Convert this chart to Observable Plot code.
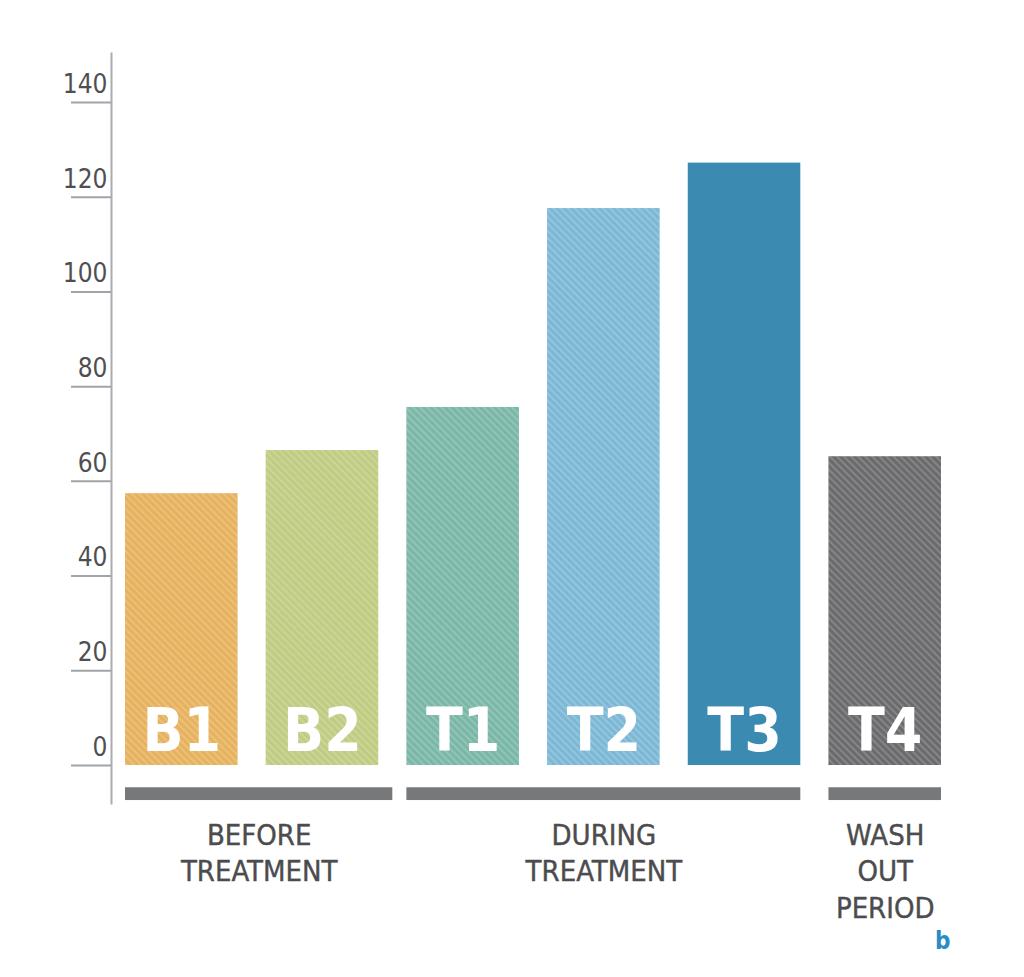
<!DOCTYPE html>
<html>
<head>
<meta charset="utf-8">
<script src="https://cdn.jsdelivr.net/npm/d3@7"></script>
<script src="https://cdn.jsdelivr.net/npm/@observablehq/plot@0.6"></script>
<style>
  html, body { margin: 0; padding: 0; background: #fff; }
  #chart { width: 1024px; height: 977px; }
</style>
</head>
<body>
<div id="chart"></div>
<script>
// ---- data ----
const categories = ["B1", "B2", "T1", "T2", "T3", "T4"];
const values = [57.4, 66.5, 75.6, 117.6, 127.2, 65.2];
const colors = ["#e7b25e", "#bfcc82", "#7ab7a7", "#7cb8d5", "#3a8ab1", "#6b6b6d"];
const groupLabels = ["BEFORE\nTREATMENT", "DURING\nTREATMENT", "WASH\nOUT\nPERIOD"];
const groupFirst = [0, 2, 5];
const groupLast = [1, 4, 5];
const yTicks = [0, 20, 40, 60, 80, 100, 120, 140];

// ---- tables ----
const barW = 0.8;
const bars = categories.map((c, i) => ({cat: c, value: values[i], color: colors[i], i}));
const groups = groupLabels.map((g, k) => ({
  label: g,
  x1: groupFirst[k],
  x2: groupLast[k] + barW + (k === 0 ? 0.1 : 0)
}));

const font = "'DejaVu Sans Condensed', 'Liberation Sans Narrow', 'DejaVu Sans', sans-serif";

const chart = Plot.plot({
  width: 1024,
  height: 977,
  marginLeft: 111,
  marginRight: 83,
  marginTop: 102,
  marginBottom: 212,
  style: {fontFamily: font, background: "#fff", overflow: "visible"},
  x: {type: "linear", domain: [0, 5 + barW], insetLeft: 14, axis: null},
  y: {domain: [0, 140], ticks: yTicks, axis: null},
  marks: [
    Plot.frame({anchor: "left", stroke: "#a9acb0", strokeWidth: 2, insetTop: -49, insetBottom: -38}),
    Plot.axisY(yTicks, {anchor: "left", tickSize: 40, tickFormat: () => "", label: null,
      stroke: "#a0a3a7", strokeWidth: 2}),
    Plot.axisY(yTicks, {anchor: "left", tickSize: 0, tickPadding: 4, dy: -18, fontSize: 26,
      fill: "#4f4f51", label: null}),
    Plot.rectY(bars, {x1: "i", x2: d => d.i + barW, y1: 0, y2: "value", fill: "color"}),
    Plot.rectY(bars.filter(d => d.cat !== "T3"), {x1: "i", x2: d => d.i + barW, y1: 0, y2: "value", fill: "url(#hatch)"}),
    Plot.text(bars, {x: d => d.i + barW / 2, y: 0, text: "cat", dy: -15, lineAnchor: "bottom",
      fill: "#fff", fontSize: 60, fontWeight: "bold"}),
    Plot.rectY(groups, {x1: "x1", x2: "x2", y1: -4.7, y2: -7.4, fill: "#77787a"}),
    Plot.text(groups, {x: d => (d.x1 + d.x2) / 2, y: -11.4, text: "label", lineAnchor: "top",
      lineHeight: 1.25, fontSize: 29, fill: "#4c4c4e", stroke: "#4c4c4e", strokeWidth: 0.4}),
    Plot.text(["b"], {x: 5 + barW, y: -37.2, text: d => d, textAnchor: "end", fontSize: 24,
      fontWeight: "bold", fill: "#2a8cc4", dx: 9})
  ]
});

// stripe pattern used as an overlay on the bars
const svg = d3.select(chart);
const defs = svg.insert("defs", ":first-child");
const pat = defs.append("pattern")
  .attr("id", "hatch")
  .attr("width", 5).attr("height", 5)
  .attr("patternUnits", "userSpaceOnUse")
  .attr("patternTransform", "rotate(45)");
pat.append("line").attr("x1", 0).attr("y1", 1).attr("x2", 5).attr("y2", 1)
  .attr("stroke", "#ffffff").attr("stroke-opacity", 0.22).attr("stroke-width", 1.6);

document.getElementById("chart").appendChild(chart);
</script>
</body>
</html>
